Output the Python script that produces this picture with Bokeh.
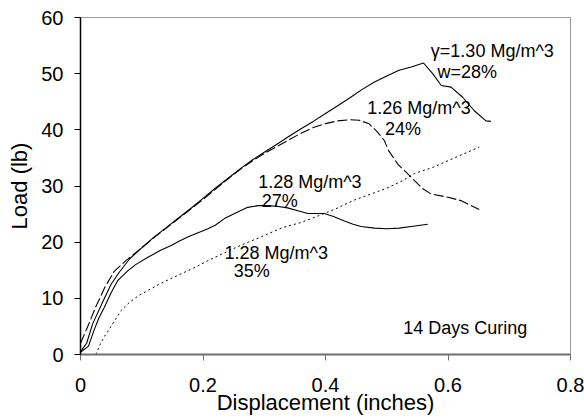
from bokeh.plotting import figure
from bokeh.models import ColumnDataSource, FixedTicker, Range1d
from bokeh.core.properties import value
from bokeh.embed import file_html
from bokeh.resources import INLINE

# --- data ---
x_ticks = [0, 0.2, 0.4, 0.6, 0.8]
x_tick_labels = ["0", "0.2", "0.4", "0.6", "0.8"]
y_ticks = [0, 10, 20, 30, 40, 50, 60]

# gamma = 1.30 Mg/m^3, w = 28% (solid)
s130_x = [0, 0.01, 0.02, 0.036, 0.05, 0.063, 0.08, 0.1, 0.12, 0.14, 0.16, 0.18, 0.2,
          0.22, 0.24, 0.26, 0.28, 0.3, 0.32, 0.34, 0.36, 0.38, 0.4, 0.42, 0.44, 0.46,
          0.48, 0.5, 0.52, 0.54, 0.56, 0.575, 0.589, 0.605, 0.624, 0.643, 0.662, 0.67]
s130_y = [0.5, 2.0, 5.5, 9.3, 12.5, 14.6, 17.0, 19.0, 20.9, 22.6, 24.3, 26.0, 27.8,
          29.6, 31.3, 33.0, 34.6, 36.0, 37.4, 38.8, 40.2, 41.5, 42.9, 44.3, 45.7, 47.2,
          48.5, 49.6, 50.6, 51.2, 51.9, 50.0, 47.9, 47.6, 45.8, 43.4, 41.6, 41.5]

# 1.26 Mg/m^3, 24% (dashed)
d126_x = [0, 0.01, 0.025, 0.04, 0.055, 0.075, 0.1, 0.12, 0.14, 0.16, 0.18, 0.2, 0.22,
          0.24, 0.26, 0.28, 0.3, 0.32, 0.34, 0.36, 0.38, 0.4, 0.42, 0.44, 0.455, 0.471,
          0.485, 0.496, 0.503, 0.518, 0.534, 0.545, 0.559, 0.572, 0.6, 0.621, 0.651]
d126_y = [2.0, 4.5, 8.5, 12.0, 14.8, 16.8, 19.0, 20.8, 22.5, 24.2, 25.9, 27.6, 29.4,
          31.2, 32.9, 34.4, 35.8, 37.0, 38.2, 39.4, 40.4, 41.1, 41.6, 41.8, 41.7, 41.1,
          39.6, 38.1, 36.3, 33.9, 32.2, 31.0, 29.5, 28.6, 28.0, 27.4, 25.8]

# 1.28 Mg/m^3, 27% (solid)
s128_x = [0, 0.013, 0.022, 0.03, 0.039, 0.05, 0.061, 0.077, 0.09, 0.11, 0.13, 0.148,
          0.16, 0.175, 0.19, 0.208, 0.22, 0.235, 0.255, 0.273, 0.29, 0.306, 0.32, 0.338,
          0.355, 0.371, 0.385, 0.398, 0.412, 0.43, 0.445, 0.458, 0.48, 0.5, 0.52, 0.54,
          0.567]
s128_y = [0.4, 1.5, 4.3, 6.5, 8.4, 11.0, 13.2, 14.9, 16.0, 17.3, 18.5, 19.4, 20.1, 20.9,
          21.6, 22.4, 23.0, 24.2, 25.3, 26.2, 26.5, 26.5, 26.4, 26.1, 25.6, 25.1, 25.1,
          25.1, 24.6, 23.8, 23.2, 22.8, 22.5, 22.4, 22.5, 22.8, 23.2]

# 1.28 Mg/m^3, 35% (dotted)
t128_x = [0.025, 0.032, 0.039, 0.05, 0.066, 0.08, 0.095, 0.11, 0.13, 0.159, 0.185,
          0.208, 0.235, 0.265, 0.296, 0.33, 0.36, 0.398, 0.42, 0.447, 0.475, 0.5, 0.525,
          0.545, 0.575, 0.6, 0.625, 0.651]
t128_y = [0.0, 1.8, 3.2, 5.0, 7.8, 9.3, 10.5, 11.4, 12.6, 14.1, 15.4, 16.7, 18.1, 19.6,
          21.0, 22.6, 23.5, 25.1, 26.1, 27.5, 28.6, 29.6, 30.9, 32.2, 33.3, 34.5, 35.7,
          36.9]

ann_text = ["\u03b3=1.30 Mg/m^3", "w=28%", "1.26 Mg/m^3", "24%", "1.28 Mg/m^3", "27%",
            "1.28 Mg/m^3", "35%", "14 Days Curing"]
ann_x = [0.572, 0.583, 0.468, 0.497, 0.29, 0.296, 0.235, 0.25, 0.527]
ann_y = [54.1, 50.3, 43.8, 40.2, 30.8, 27.3, 18.1, 14.8, 4.7]

FONT = "Liberation Sans"

p = figure(width=584, height=420, x_range=Range1d(0, 0.8), y_range=Range1d(0, 60),
           output_backend="svg", toolbar_location=None,
           min_border_left=80, min_border_right=14, min_border_top=17, min_border_bottom=66)

p.xgrid.visible = False
p.ygrid.visible = False
p.outline_line_color = "#9a9a9a"
p.outline_line_width = 1
p.background_fill_color = "white"
p.border_fill_color = "white"

p.xaxis.ticker = FixedTicker(ticks=x_ticks)
p.xaxis.major_label_overrides = {t: l for t, l in zip(x_ticks, x_tick_labels)}
p.yaxis.ticker = FixedTicker(ticks=y_ticks)

for ax in (p.xaxis[0], p.yaxis[0]):
    ax.minor_tick_line_color = None
    ax.major_tick_in = 0
    ax.major_tick_out = 6
    ax.major_label_text_font = FONT
    ax.major_label_text_font_size = "20px"
    ax.major_label_text_color = "black"
    ax.axis_label_text_font = FONT
    ax.axis_label_text_font_size = "22px"
    ax.axis_label_text_font_style = "normal"
    ax.axis_label_text_color = "black"

p.xaxis.axis_label = "Displacement (inches)"
p.yaxis.axis_label = "Load (lb)"
p.xaxis.axis_line_color = "#707070"
p.xaxis.axis_line_width = 2
p.xaxis.major_tick_line_color = "#707070"
p.yaxis.axis_line_color = "black"
p.yaxis.axis_line_width = 1.5
p.yaxis.major_tick_line_color = "black"
p.xaxis.major_label_standoff = 17
p.xaxis.axis_label_standoff = -5
p.yaxis.major_label_standoff = 11
p.yaxis.axis_label_standoff = 6

p.line(s130_x, s130_y, line_color="black", line_width=1.1)
p.line(d126_x, d126_y, line_color="black", line_width=1.1, line_dash="10 3")
p.line(s128_x, s128_y, line_color="black", line_width=1.1)
p.line(t128_x, t128_y, line_color="black", line_width=1.0, line_dash="2 3")

src = ColumnDataSource(dict(x=ann_x, y=ann_y, text=ann_text))
p.text(x="x", y="y", text="text", source=src, text_font=value(FONT),
       text_font_size="18px", text_baseline="middle", text_align="left",
       text_color="black")

open("out.html", "w").write(file_html(p, INLINE))
